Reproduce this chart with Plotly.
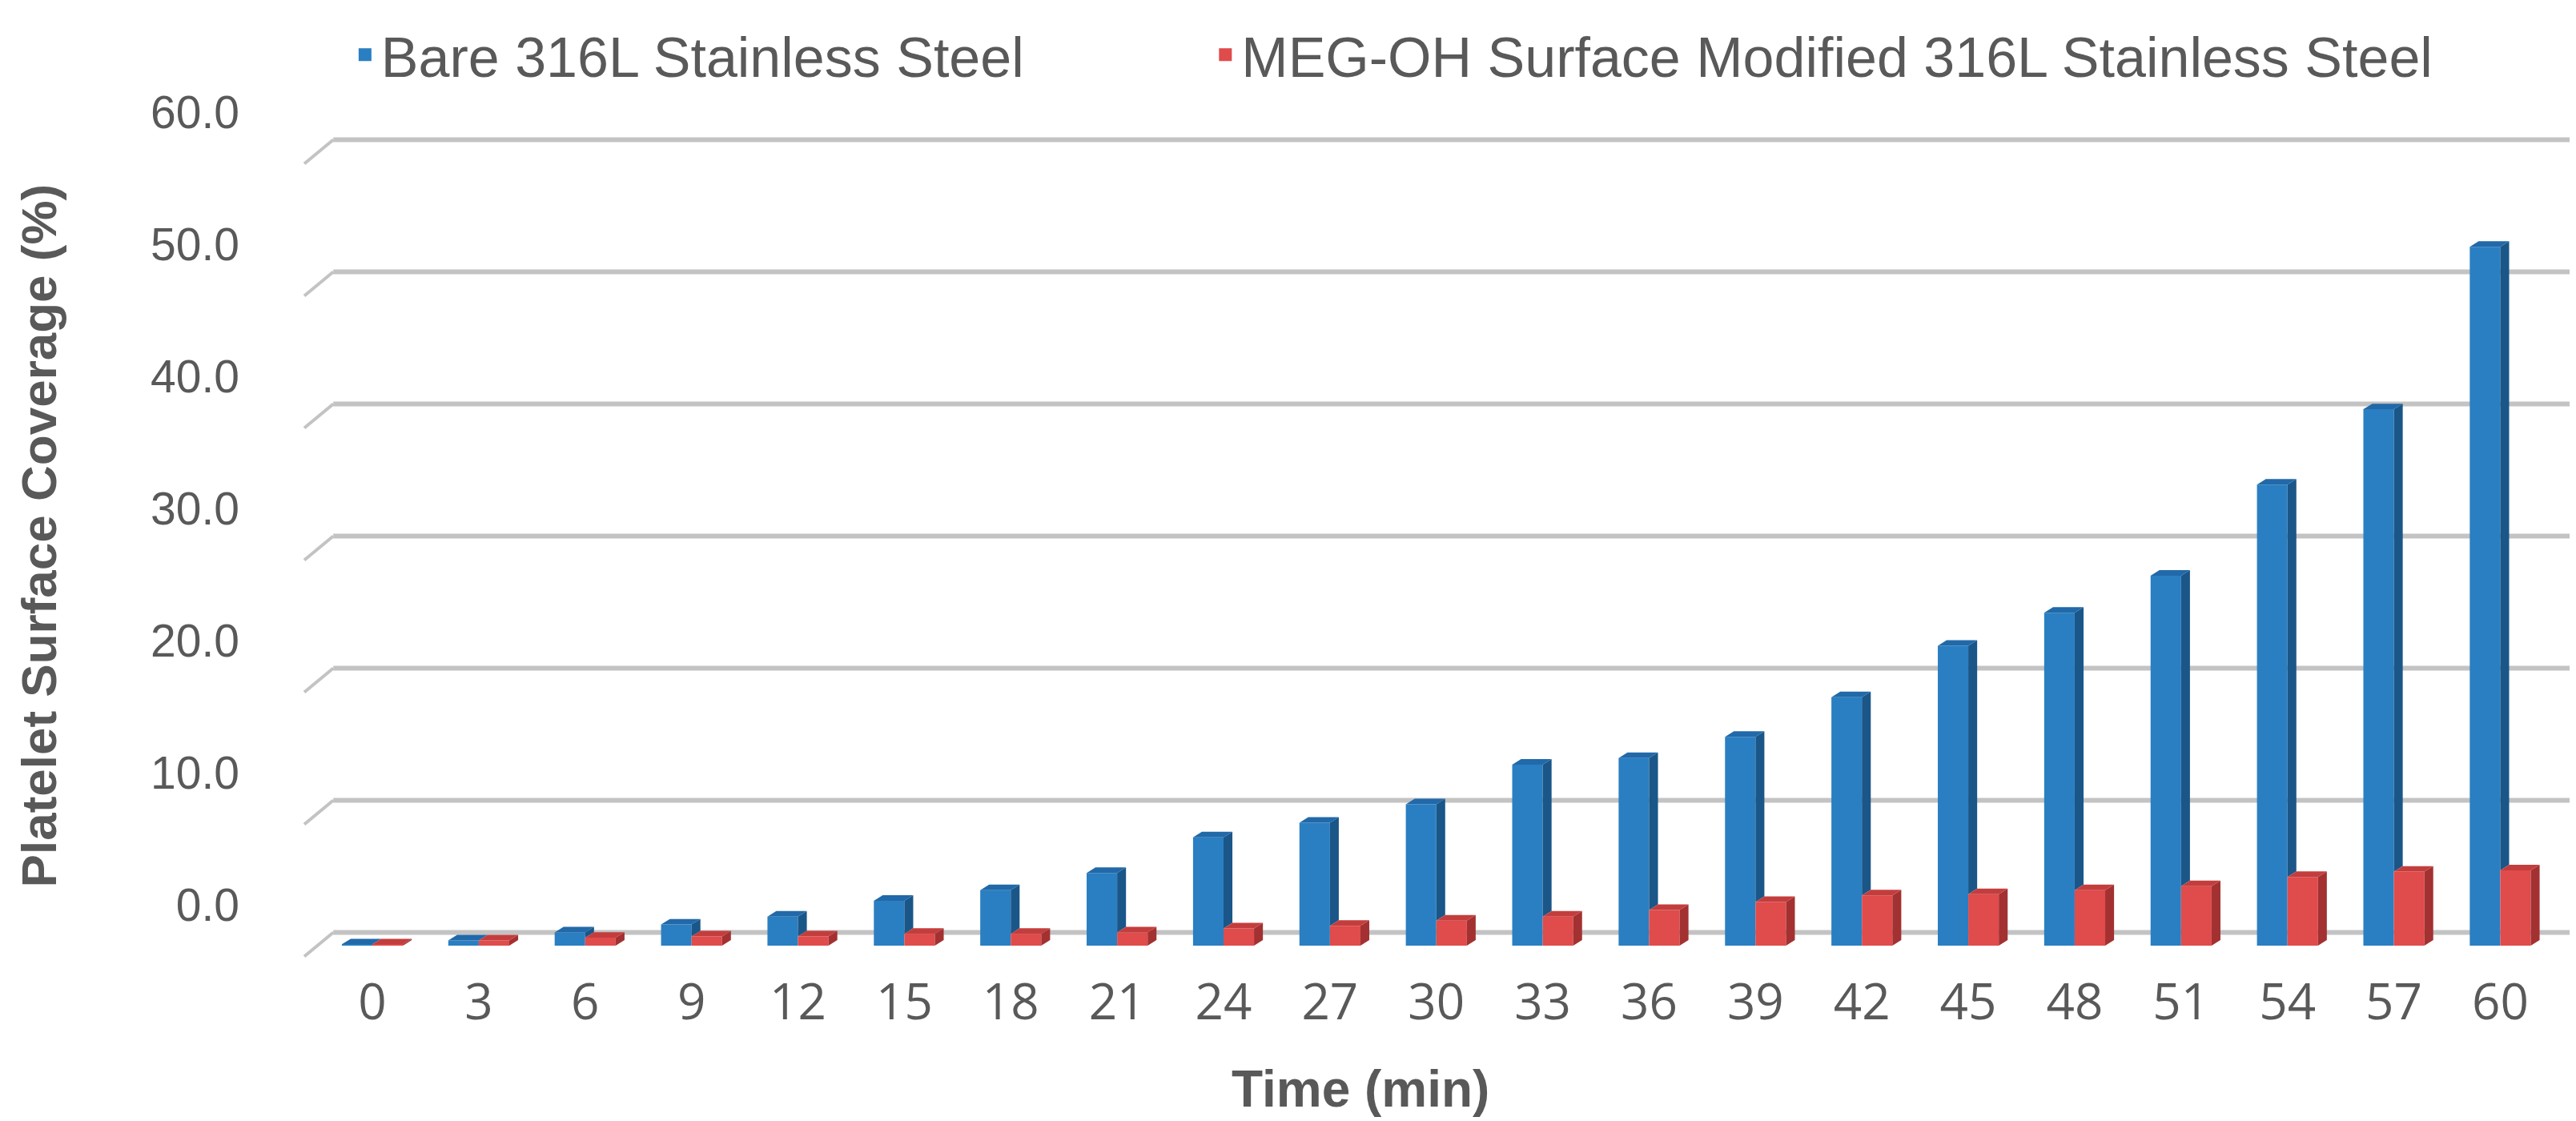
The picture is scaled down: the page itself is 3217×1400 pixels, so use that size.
import plotly.graph_objects as go

# platelet coverage
times = [0, 3, 6, 9, 12, 15, 18, 21, 24, 27, 30, 33, 36, 39, 42, 45, 48, 51, 54, 57, 60]
bare_316l = [0.1, 0.4, 1.0, 1.6, 2.2, 3.4, 4.2, 5.5, 8.2, 9.3, 10.7, 13.7, 14.2,
             15.8, 18.8, 22.7, 25.2, 28.0, 34.9, 40.6, 52.9]
meg_oh = [0.1, 0.4, 0.6, 0.7, 0.7, 0.9, 0.9, 1.0, 1.3, 1.5, 1.9, 2.2, 2.7,
          3.3, 3.8, 3.9, 4.2, 4.5, 5.2, 5.6, 5.7]
y_ticks = [0, 10, 20, 30, 40, 50, 60]
y_tick_text = ["0.0", "10.0", "20.0", "30.0", "40.0", "50.0", "60.0"]

names = ["Bare 316L Stainless Steel", "MEG-OH Surface Modified 316L Stainless Steel"]

BAR_W = 0.86          # column width in minutes
DX, DY = 0.25, 0.42   # oblique depth of the columns (x in min, y in %)
WALL = 1.0            # back wall sits this far "up" from the front plane
GREY = "#595959"


def column_faces(values, offset, hidden_below):
    """side + top faces of the fake 3-D columns"""
    sx, sy, tx, ty = [], [], [], []
    for t, v, h in zip(times, values, hidden_below):
        x0 = t + offset
        x1 = x0 + BAR_W
        b = min(h, v)
        sx += [x1, x1 + DX, x1 + DX, x1, x1, None]
        sy += [b, b + DY, v + DY, v, b, None]
        tx += [x0, x1, x1 + DX, x0 + DX, x0, None]
        ty += [v, v, v + DY, v + DY, v, None]
    return sx, sy, tx, ty


fig = go.Figure()

series = [
    (bare_316l, -BAR_W, meg_oh, "#2a7fc2", "#1b5688", "#2169a9", "legend"),
    (meg_oh, 0.0, [0] * len(times), "#e04b4b", "#a33131", "#c43d3d", "legend2"),
]
for i, (vals, off, hide, front, side, top, leg) in enumerate(series):
    fig.add_trace(go.Bar(
        x=times, y=vals, width=BAR_W, offset=off,
        marker=dict(color=front, line=dict(width=0)),
        name=names[i], showlegend=False,
    ))
    sx, sy, tx, ty = column_faces(vals, off, hide)
    fig.add_trace(go.Scatter(x=sx, y=sy, fill="toself", fillcolor=side, mode="none",
                             showlegend=False, hoverinfo="skip"))
    fig.add_trace(go.Scatter(x=tx, y=ty, fill="toself", fillcolor=top, mode="none",
                             showlegend=False, hoverinfo="skip"))
    # legend key (bigger square than the bar icon)
    fig.add_trace(go.Scatter(x=[None], y=[None], mode="markers", name=names[i],
                             marker=dict(symbol="square", size=34, color=front),
                             legend=leg, showlegend=True))

# gridlines on the back wall with the little slanted bit on the side wall
shapes = []
for v in y_ticks:
    shapes.append(dict(type="line", xref="paper", yref="y", x0=0.0128, x1=1.0,
                       y0=v + WALL, y1=v + WALL, layer="below",
                       line=dict(color="#c3c3c3", width=6)))
    shapes.append(dict(type="line", xref="paper", yref="y", x0=0.0, x1=0.0128,
                       y0=v - 0.82, y1=v + WALL, layer="below",
                       line=dict(color="#c3c3c3", width=4)))

legend_style = dict(orientation="h", xref="container", yref="container",
                    yanchor="middle", xanchor="left", itemsizing="trace",
                    bgcolor="rgba(0,0,0,0)",
                    font=dict(family="Liberation Sans", size=70, color=GREY))

fig.update_layout(
    width=3217, height=1400,
    barmode="overlay",
    paper_bgcolor="white", plot_bgcolor="white",
    margin=dict(l=372, r=14, t=150, b=210, autoexpand=False),
    shapes=shapes,
    showlegend=True,
    legend=dict(legend_style, x=0.133, y=0.957),
    legend2=dict(legend_style, x=0.467, y=0.957),
    xaxis=dict(range=[-1.92, 62.0], tickvals=times, showgrid=False, zeroline=False,
               showline=False, ticks="", ticklabelstandoff=12,
               tickfont=dict(family="Open Sans", size=62, color=GREY)),
    yaxis=dict(range=[-1.03, 62.0], tickvals=y_ticks, ticktext=y_tick_text,
               showgrid=False, zeroline=False, showline=False, ticks="",
               ticklabelshift=-51, ticklabelstandoff=80,
               tickfont=dict(family="Liberation Sans", size=57, color=GREY)),
    annotations=[
        dict(text="<b>Time (min)</b>", xref="paper", yref="paper", x=0.466, y=-0.156,
             xanchor="center", yanchor="middle", showarrow=False,
             font=dict(family="Liberation Sans", size=64, color=GREY)),
        dict(text="<b>Platelet Surface Coverage (%)</b>", xref="paper", yref="paper",
             x=-0.117, y=0.509, xanchor="center", yanchor="middle", textangle=-90,
             showarrow=False, font=dict(family="Liberation Sans", size=62, color=GREY)),
    ],
)

fig.write_html("out.html")
